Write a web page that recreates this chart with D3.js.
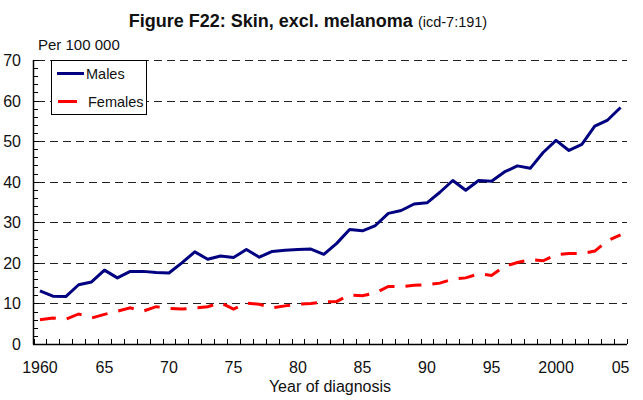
<!DOCTYPE html>
<html>
<head>
<meta charset="utf-8">
<title>Figure F22</title>
<script src="https://d3js.org/d3.v7.min.js"></script>
<style>
  body { margin: 0; background: #fff; }
  text { font-family: Arial, "Liberation Sans", sans-serif; fill: #111; }
</style>
</head>
<body>
<script>
// data
var years = d3.range(1960, 2006);
var males = [13.1, 11.8, 11.7, 14.6, 15.3, 18.2, 16.3, 17.9, 17.9, 17.6,
             17.5, 20.0, 22.7, 20.9, 21.7, 21.3, 23.3, 21.4, 22.8, 23.1,
             23.3, 23.4, 22.1, 24.8, 28.2, 27.9, 29.2, 32.2, 32.9, 34.5,
             34.8, 37.4, 40.3, 37.9, 40.3, 40.1, 42.4, 43.9, 43.3, 47.2,
             50.2, 47.7, 49.2, 53.7, 55.2, 58.3];
var females = [6.0, 6.4, 6.1, 7.4, 6.4, 7.3, 8.1, 8.9, 8.1, 9.2,
               8.8, 8.6, 8.9, 9.2, 10.2, 8.6, 10.1, 9.8, 8.9, 9.4,
               9.8, 10.0, 10.4, 10.5, 12.1, 11.9, 12.6, 14.2, 14.1, 14.5,
               14.6, 15.0, 16.0, 16.3, 17.3, 16.9, 19.1, 20.1, 20.8, 20.5,
               22.0, 22.3, 22.3, 22.9, 25.5, 26.9];
var yTicks = [0, 10, 20, 30, 40, 50, 60, 70];
var xLabels = [[1960, "1960"], [1965, "65"], [1970, "70"], [1975, "75"], [1980, "80"],
               [1985, "85"], [1990, "90"], [1995, "95"], [2000, "2000"], [2005, "05"]];

var W = 643, H = 400;
var svg = d3.select('body').append('svg')
  .attr('width', W).attr('height', H);

var x = d3.scaleLinear().domain([1959.5, 2005.5]).range([33.5, 627]);
var y = d3.scaleLinear().domain([0, 70]).range([344, 60]);

// gridlines
svg.selectAll('.grid').data(yTicks.slice(1)).enter().append('line')
  .attr('x1', 37).attr('x2', 627)
  .attr('y1', d => Math.round(y(d)) + 0.5).attr('y2', d => Math.round(y(d)) + 0.5)
  .attr('stroke', '#222').attr('stroke-width', 1)
  .attr('stroke-dasharray', '8,5');

// axes lines
svg.append('line').attr('x1', 33.5).attr('x2', 33.5).attr('y1', y(70)).attr('y2', 344.5)
  .attr('stroke', '#000').attr('stroke-width', 1.5);
svg.append('line').attr('x1', 33).attr('x2', 627).attr('y1', 344.5).attr('y2', 344.5)
  .attr('stroke', '#000').attr('stroke-width', 1.5);

// y ticks (minor every 2)
svg.selectAll('.ytick').data(d3.range(0, 71, 2)).enter().append('line')
  .attr('x1', 33.5).attr('x2', d => d % 10 === 0 ? 39 : 38)
  .attr('y1', d => Math.round(y(d)) + 0.5).attr('y2', d => Math.round(y(d)) + 0.5)
  .attr('stroke', '#000').attr('stroke-width', 1);

// x ticks at year boundaries
svg.selectAll('.xtick').data(d3.range(1959.5, 2006, 1)).enter().append('line')
  .attr('x1', d => Math.round(x(d)) + 0.5).attr('x2', d => Math.round(x(d)) + 0.5)
  .attr('y1', 344).attr('y2', 339)
  .attr('stroke', '#000').attr('stroke-width', 1);

// y labels
svg.selectAll('.ylab').data(yTicks).enter().append('text')
  .attr('x', 21).attr('y', d => y(d) + 6)
  .attr('text-anchor', 'end').attr('font-size', 16)
  .text(d => d);

// x labels
svg.selectAll('.xlab').data(xLabels).enter().append('text')
  .attr('x', d => x(d[0])).attr('y', 373)
  .attr('text-anchor', 'middle').attr('font-size', 16)
  .text(d => d[1]);

svg.append('text').attr('x', 330).attr('y', 392)
  .attr('text-anchor', 'middle').attr('font-size', 16)
  .text('Year of diagnosis');

svg.append('text').attr('x', 38).attr('y', 50)
  .attr('font-size', 15).text('Per 100 000');

// title
var title = svg.append('text').attr('x', 308).attr('y', 27)
  .attr('text-anchor', 'middle');
title.append('tspan').attr('font-size', 18).attr('font-weight', 'bold')
  .text('Figure F22: Skin, excl. melanoma');
title.append('tspan').attr('font-size', 14.5).attr('dx', 5)
  .text('(icd-7:191)');

// series
var line = d3.line().x((d, i) => x(years[i])).y(d => y(d));

svg.append('path').datum(females)
  .attr('d', line).attr('fill', 'none')
  .attr('stroke', '#ff0000').attr('stroke-width', 3)
  .attr('stroke-dasharray', '16,11');

svg.append('path').datum(males)
  .attr('d', line).attr('fill', 'none')
  .attr('stroke', '#000080').attr('stroke-width', 3)
  .attr('stroke-linejoin', 'round');

// legend
var lg = svg.append('g');
lg.append('rect').attr('x', 51.5).attr('y', 60.5).attr('width', 95).attr('height', 54)
  .attr('fill', '#fff').attr('stroke', '#000').attr('stroke-width', 1);
lg.append('line').attr('x1', 57).attr('x2', 84).attr('y1', 73.5).attr('y2', 73.5)
  .attr('stroke', '#000080').attr('stroke-width', 3);
lg.append('text').attr('x', 86).attr('y', 78.5).attr('font-size', 14.5).text('Males');
lg.append('line').attr('x1', 58).attr('x2', 77).attr('y1', 101.5).attr('y2', 101.5)
  .attr('stroke', '#ff0000').attr('stroke-width', 3);
lg.append('text').attr('x', 88).attr('y', 106.5).attr('font-size', 14.5).text('Females');
</script>
</body>
</html>
